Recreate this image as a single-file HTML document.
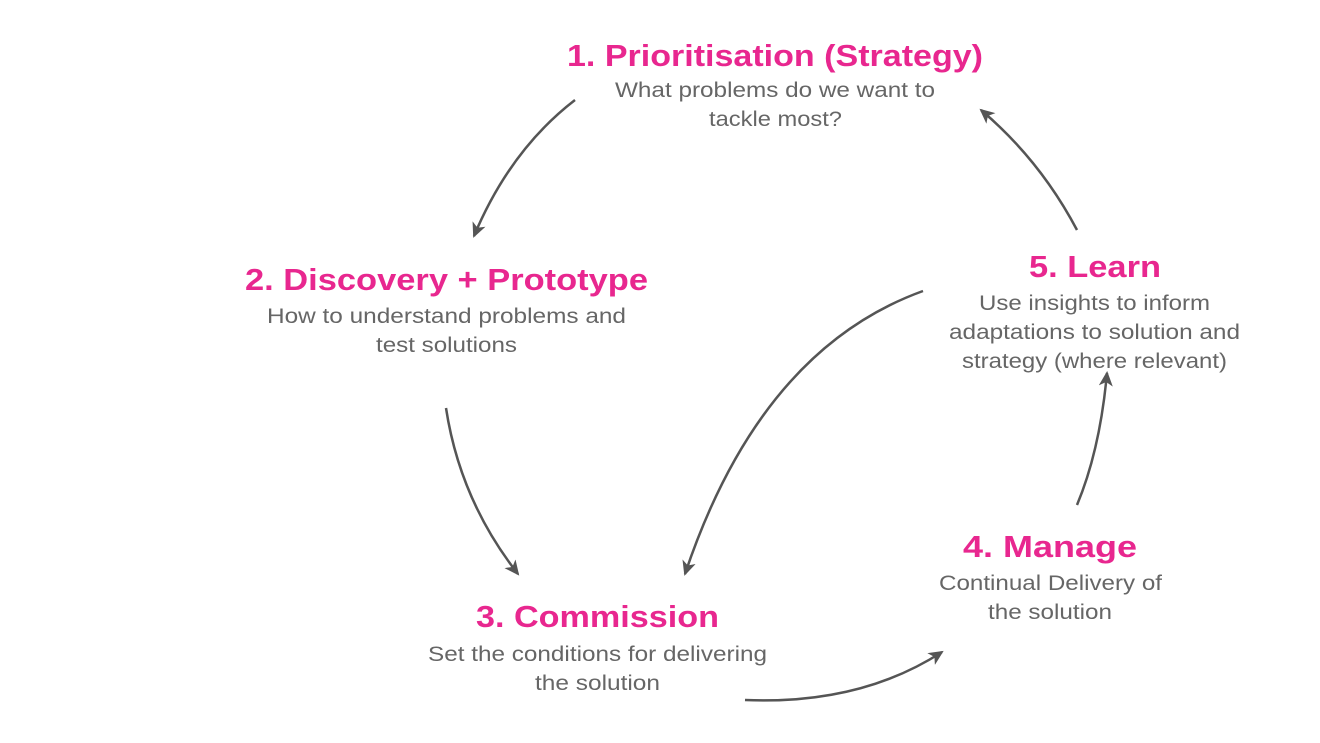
<!DOCTYPE html>
<html><head><meta charset="utf-8"><style>
html,body{margin:0;padding:0;background:#fff;}
svg{display:block}
.t{font-family:"Liberation Sans",sans-serif;font-weight:bold;fill:#e8278f;font-size:31px}
.s{font-family:"Liberation Sans",sans-serif;fill:#666;font-size:21px}
</style></head><body>
<svg width="1320" height="743" viewBox="0 0 1320 743" xmlns="http://www.w3.org/2000/svg">
<defs><marker id="a" markerWidth="16" markerHeight="14" refX="13" refY="7" orient="auto" markerUnits="userSpaceOnUse">
<path d="M0,0 L15,7 L0,14 L4,7 Z" fill="#555"/></marker></defs>
<g fill="none" stroke="#555" stroke-width="2.5" marker-end="url(#a)">
<path d="M575,100 Q510,150 474,236"/>
<path d="M446,408 Q460,500 518,574"/>
<path d="M745,700 Q860,705 942,652"/>
<path d="M1077,505 Q1100,450 1107,373"/>
<path d="M1077,230 Q1040,160 981,110"/>
<path d="M923,291 Q760,350 685,574"/>
</g>
<text class="t" x="567" y="66" textLength="416" lengthAdjust="spacingAndGlyphs">1. Prioritisation (Strategy)</text>
<text class="s" x="615" y="97" textLength="320" lengthAdjust="spacingAndGlyphs">What problems do we want to</text>
<text class="s" x="709" y="126" textLength="133" lengthAdjust="spacingAndGlyphs">tackle most?</text>
<text class="t" x="245" y="290" textLength="403" lengthAdjust="spacingAndGlyphs">2. Discovery + Prototype</text>
<text class="s" x="267" y="323" textLength="359" lengthAdjust="spacingAndGlyphs">How to understand problems and</text>
<text class="s" x="376" y="352" textLength="141" lengthAdjust="spacingAndGlyphs">test solutions</text>
<text class="t" x="476" y="627" textLength="243" lengthAdjust="spacingAndGlyphs">3. Commission</text>
<text class="s" x="428" y="661" textLength="339" lengthAdjust="spacingAndGlyphs">Set the conditions for delivering</text>
<text class="s" x="535" y="690" textLength="125" lengthAdjust="spacingAndGlyphs">the solution</text>
<text class="t" x="963" y="557" textLength="174" lengthAdjust="spacingAndGlyphs">4. Manage</text>
<text class="s" x="939" y="590" textLength="223" lengthAdjust="spacingAndGlyphs">Continual Delivery of</text>
<text class="s" x="988" y="619" textLength="124" lengthAdjust="spacingAndGlyphs">the solution</text>
<text class="t" x="1029" y="277" textLength="132" lengthAdjust="spacingAndGlyphs">5. Learn</text>
<text class="s" x="979" y="310" textLength="231" lengthAdjust="spacingAndGlyphs">Use insights to inform</text>
<text class="s" x="949" y="339" textLength="291" lengthAdjust="spacingAndGlyphs">adaptations to solution and</text>
<text class="s" x="962" y="368" textLength="265" lengthAdjust="spacingAndGlyphs">strategy (where relevant)</text>
</svg>
</body></html>
